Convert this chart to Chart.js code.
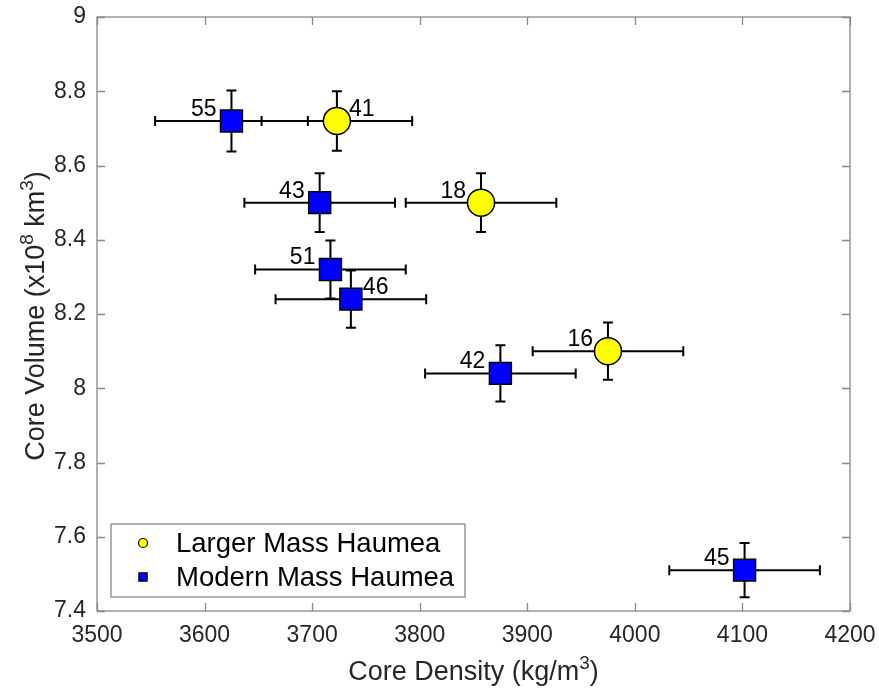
<!DOCTYPE html>
<html>
<head>
<meta charset="utf-8">
<script src="https://cdn.jsdelivr.net/npm/chart.js@4.4.1/dist/chart.umd.min.js"></script>
<style>
  html, body { margin: 0; padding: 0; background: #ffffff; }
  #wrap { width: 879px; height: 694px; position: relative; }
</style>
</head>
<body>
<div id="wrap"><canvas id="chart"></canvas></div>
<script>
// Axis ticks and their printed labels
const densityTicks = [3500, 3600, 3700, 3800, 3900, 4000, 4100, 4200];
const densityTickLabels = ['3500', '3600', '3700', '3800', '3900', '4000', '4100', '4200'];
const volumeTicks = [7.4, 7.6, 7.8, 8.0, 8.2, 8.4, 8.6, 8.8, 9.0];
const volumeTickLabels = ['7.4', '7.6', '7.8', '8', '8.2', '8.4', '8.6', '8.8', '9'];

// Larger Mass Haumea runs
const largerIds = ['41', '18', '16'];
const largerDensity = [3723, 3857, 3975];
const largerVolume = [8.72, 8.50, 8.10];
const largerDensityErr = [70, 70, 70];
const largerVolumeErr = [0.080, 0.079, 0.077];

// Modern Mass Haumea runs
const modernIds = ['55', '43', '51', '46', '42', '45'];
const modernDensity = [3625, 3707, 3717, 3736, 3875, 4102];
const modernVolume = [8.72, 8.50, 8.32, 8.24, 8.04, 7.51];
const modernDensityErr = [71, 70, 70, 70, 70, 70];
const modernVolumeErr = [0.082, 0.079, 0.078, 0.077, 0.076, 0.073];

const FONT = '"Liberation Sans", Arial, Helvetica, sans-serif';
const TEXT_DARK = '#262626';

// which side of its marker each run number is written on
const labelSide = { '41': 'right', '46': 'right' };

function buildPoints(ids, xs, ys, xe, ye) {
  return ids.map((id, i) => ({ x: xs[i], y: ys[i], xErr: xe[i], yErr: ye[i], id: id }));
}

const datasets = [
  {
    label: 'Larger Mass Haumea',
    data: buildPoints(largerIds, largerDensity, largerVolume, largerDensityErr, largerVolumeErr),
    pointStyle: 'circle',
    pointRadius: 13.5,
    backgroundColor: '#ffff00',
    borderColor: '#000000',
    borderWidth: 1.5,
    legendRadius: 4.5
  },
  {
    label: 'Modern Mass Haumea',
    data: buildPoints(modernIds, modernDensity, modernVolume, modernDensityErr, modernVolumeErr),
    pointStyle: 'rect',
    pointRadius: 15.5,
    backgroundColor: '#0000ff',
    borderColor: '#000000',
    borderWidth: 1.5,
    legendRadius: 5.5
  }
];

// frame, inward tick marks and error bars (under the markers)
const underlayPlugin = {
  id: 'underlay',
  beforeDatasetsDraw(chart) {
    const { ctx, chartArea: a, scales: { x, y } } = chart;
    ctx.save();
    // error bars
    ctx.strokeStyle = '#000000';
    ctx.lineWidth = 2;
    const cap = 5;
    chart.data.datasets.forEach(ds => {
      ds.data.forEach(p => {
        const px = x.getPixelForValue(p.x);
        const py = y.getPixelForValue(p.y);
        const x0 = x.getPixelForValue(p.x - p.xErr);
        const x1 = x.getPixelForValue(p.x + p.xErr);
        const y0 = y.getPixelForValue(p.y - p.yErr);
        const y1 = y.getPixelForValue(p.y + p.yErr);
        ctx.beginPath();
        ctx.moveTo(x0, py); ctx.lineTo(x1, py);
        ctx.moveTo(x0, py - cap); ctx.lineTo(x0, py + cap);
        ctx.moveTo(x1, py - cap); ctx.lineTo(x1, py + cap);
        ctx.moveTo(px, y0); ctx.lineTo(px, y1);
        ctx.moveTo(px - cap, y0); ctx.lineTo(px + cap, y0);
        ctx.moveTo(px - cap, y1); ctx.lineTo(px + cap, y1);
        ctx.stroke();
      });
    });
    // box and ticks
    ctx.strokeStyle = '#888888';
    ctx.lineWidth = 1.3;
    ctx.strokeRect(a.left, a.top, a.right - a.left, a.bottom - a.top);
    const tl = 8;
    ctx.beginPath();
    x.ticks.forEach(t => {
      const px = Math.round(x.getPixelForValue(t.value)) + 0.5;
      ctx.moveTo(px, a.bottom); ctx.lineTo(px, a.bottom - tl);
      ctx.moveTo(px, a.top); ctx.lineTo(px, a.top + tl);
    });
    y.ticks.forEach(t => {
      const py = Math.round(y.getPixelForValue(t.value)) + 0.5;
      ctx.moveTo(a.left, py); ctx.lineTo(a.left + tl, py);
      ctx.moveTo(a.right, py); ctx.lineTo(a.right - tl, py);
    });
    ctx.stroke();
    ctx.restore();
  }
};

// run numbers, legend and axis titles
const overlayPlugin = {
  id: 'overlay',
  afterDatasetsDraw(chart) {
    const { ctx, chartArea: a, scales: { x, y } } = chart;
    ctx.save();
    // run numbers beside markers
    ctx.font = '23px ' + FONT;
    ctx.fillStyle = '#000000';
    ctx.textBaseline = 'alphabetic';
    chart.data.datasets.forEach(ds => {
      ds.data.forEach(p => {
        const px = x.getPixelForValue(p.x);
        const py = y.getPixelForValue(p.y);
        if (labelSide[p.id] === 'right') {
          ctx.textAlign = 'left';
          ctx.fillText(p.id, px + 12, py - 5);
        } else {
          ctx.textAlign = 'right';
          ctx.fillText(p.id, px - 15, py - 5);
        }
      });
    });

    // legend box in the lower left corner
    const lx = a.left + 14, ly = a.bottom - 87, lw = 354, lh = 73;
    ctx.fillStyle = '#ffffff';
    ctx.fillRect(lx, ly, lw, lh);
    ctx.strokeStyle = '#888888';
    ctx.lineWidth = 1.3;
    ctx.strokeRect(lx, ly, lw, lh);
    ctx.font = '27.5px ' + FONT;
    ctx.textAlign = 'left';
    ctx.textBaseline = 'middle';
    chart.data.datasets.forEach((ds, i) => {
      const cy = ly + 19 + i * 34;
      const cx = lx + 32;
      ctx.fillStyle = ds.backgroundColor;
      ctx.strokeStyle = '#000000';
      ctx.lineWidth = 1.2;
      ctx.beginPath();
      if (ds.pointStyle === 'circle') {
        ctx.arc(cx, cy, ds.legendRadius, 0, Math.PI * 2);
      } else {
        const s = ds.legendRadius * 0.75;
        ctx.rect(cx - s, cy - s, 2 * s, 2 * s);
      }
      ctx.fill();
      ctx.stroke();
      ctx.fillStyle = '#000000';
      ctx.fillText(ds.label, lx + 65, cy + 1);
    });
    ctx.restore();
  },
  afterDraw(chart) {
    const { ctx, chartArea: a } = chart;
    ctx.save();
    ctx.fillStyle = TEXT_DARK;
    ctx.textBaseline = 'alphabetic';
    const main = '27px ' + FONT;
    const sup = '19px ' + FONT;
    // draws runs of [text, isSuperscript] centred on (cx, baseline)
    function drawRich(parts, cx, base) {
      let w = 0;
      parts.forEach(([t, s]) => { ctx.font = s ? sup : main; w += ctx.measureText(t).width; });
      let xx = cx - w / 2;
      parts.forEach(([t, s]) => {
        ctx.font = s ? sup : main;
        ctx.fillText(t, xx, s ? base - 11 : base);
        xx += ctx.measureText(t).width;
      });
    }
    ctx.textAlign = 'left';
    drawRich([['Core Density (kg/m', false], ['3', true], [')', false]], (a.left + a.right) / 2, 680);
    ctx.translate(44, (a.top + a.bottom) / 2 + 2);
    ctx.rotate(-Math.PI / 2);
    drawRich([['Core Volume (x10', false], ['8', true], [' km', false], ['3', true], [')', false]], 0, 0);
    ctx.restore();
  }
};

new Chart(document.getElementById('chart'), {
  type: 'scatter',
  data: { datasets: datasets },
  options: {
    responsive: true,
    maintainAspectRatio: false,
    animation: false,
    devicePixelRatio: 1,
    events: [],
    layout: { padding: { top: 17, right: 29, left: 0, bottom: 0 } },
    plugins: { legend: { display: false }, tooltip: { enabled: false } },
    scales: {
      x: {
        type: 'linear',
        min: densityTicks[0],
        max: densityTicks[densityTicks.length - 1],
        grid: { display: false, drawTicks: false },
        border: { display: false },
        afterBuildTicks(scale) { scale.ticks = densityTicks.map(v => ({ value: v })); },
        afterFit(scale) { scale.height = 83; scale.paddingLeft = 0; scale.paddingRight = 0; },
        ticks: {
          autoSkip: false,
          maxRotation: 0,
          padding: 11,
          color: TEXT_DARK,
          font: { size: 23, family: FONT },
          callback: (v) => densityTickLabels[densityTicks.indexOf(v)]
        }
      },
      y: {
        type: 'linear',
        min: volumeTicks[0],
        max: volumeTicks[volumeTicks.length - 1],
        grid: { display: false, drawTicks: false },
        border: { display: false },
        afterBuildTicks(scale) { scale.ticks = volumeTicks.map(v => ({ value: v })); },
        afterFit(scale) { scale.width = 97; scale.paddingTop = 0; scale.paddingBottom = 0; },
        ticks: {
          autoSkip: false,
          padding: 11,
          color: TEXT_DARK,
          font: { size: 23, family: FONT },
          callback: (v) => {
            const i = volumeTicks.findIndex(t => Math.abs(t - v) < 1e-9);
            return volumeTickLabels[i];
          }
        }
      }
    }
  },
  plugins: [underlayPlugin, overlayPlugin]
});
</script>
</body>
</html>
